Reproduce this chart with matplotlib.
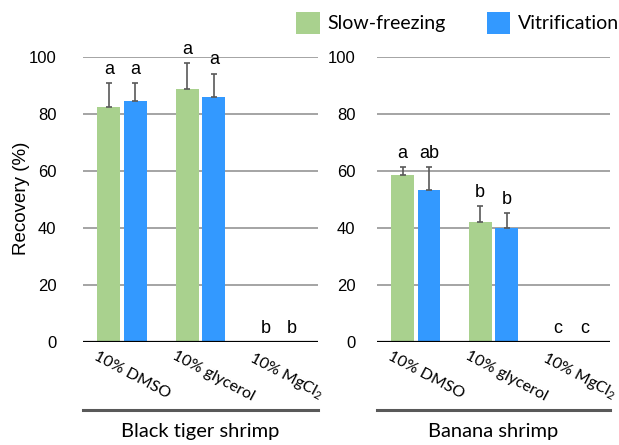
import numpy as np
import matplotlib.pyplot as plt
from matplotlib.patches import Patch

plt.rcParams['font.family'] = ['Liberation Sans', 'DejaVu Sans']
plt.rcParams['mathtext.fontset'] = 'custom'
plt.rcParams['mathtext.rm'] = 'Lato'

# data
treatments = ['10% DMSO', '10% glycerol', r'10% MgCl$_\mathregular{2}$']
species = ['Black tiger shrimp', 'Banana shrimp']
slow_mean = [[82.6, 89.0, 0], [58.7, 42.2, 0]]
slow_err = [[8.2, 9.0, 0], [2.7, 5.5, 0]]
vitri_mean = [[84.6, 86.2, 0], [53.3, 39.9, 0]]
vitri_err = [[6.2, 8.1, 0], [8.1, 5.5, 0]]
slow_letters = [['a', 'a', 'b'], ['a', 'b', 'c']]
vitri_letters = [['a', 'a', 'b'], ['ab', 'b', 'c']]

green = '#A9D18E'
blue = '#3399FF'
dark = '#595959'
calibri = ['Lato', 'DejaVu Sans']

W, H = 619, 445
fig = plt.figure(figsize=(W / 100, H / 100), dpi=100)
axes_px = [(83, 318), (377, 610)]
y0, y100 = 342, 57.3

off = 0.17
bw = 0.29
x = np.arange(len(treatments))

for k, (xa, xb) in enumerate(axes_px):
    ax = fig.add_axes([xa / W, 1 - y0 / H, (xb - xa) / W, (y0 - y100) / H])
    ax.set_xlim(-0.5, 2.5)
    ax.set_ylim(0, 100)
    for s in ax.spines.values():
        s.set_visible(False)
    ax.set_yticks([0, 20, 40, 60, 80, 100])
    ax.tick_params(axis='y', length=0, labelsize=12, pad=19 if k == 0 else 15.5)
    ax.set_xticks([])
    ax.grid(axis='y', color='#8C8C8C', linewidth=1.1, zorder=0)
    ax.set_axisbelow(True)
    ax.axhline(0, color='black', linewidth=1.6, zorder=3)

    for series, mean, err, letters, col in [
        (0, slow_mean[k], slow_err[k], slow_letters[k], green),
        (1, vitri_mean[k], vitri_err[k], vitri_letters[k], blue),
    ]:
        xs = x + (-off if series == 0 else off)
        ax.bar(xs, mean, width=bw, color=col, zorder=2)
        for xi, m, e, lt in zip(xs, mean, err, letters):
            if m > 0:
                ax.errorbar(xi, m, yerr=[[0], [e]], fmt='none', ecolor=dark,
                            elinewidth=1.2, capsize=2, capthick=1.2, zorder=2)
            ax.text(xi, m + e + 1.8, lt, ha='center', va='bottom',
                    fontsize=13, clip_on=False)

    for xi, lab in zip(x, treatments):
        ax.text(xi - 0.31, -2.5, lab, rotation=-28, rotation_mode='anchor',
                ha='left', va='top', fontsize=11.5, family=calibri,
                clip_on=False)

    ax.plot([0, 1], [-0.24, -0.24], transform=ax.transAxes, color=dark,
            linewidth=2.2, clip_on=False)
    ax.text(0.5, -0.316, species[k], transform=ax.transAxes, ha='center',
            va='center', fontsize=14.5, family=calibri)

    if k == 0:
        ax.set_ylabel('Recovery (%)', fontsize=13.5)
        ax.yaxis.set_label_coords(-0.226, 0.503)

handles = [Patch(facecolor=green), Patch(facecolor=blue)]
fig.legend(handles, ['Slow-freezing', 'Vitrification'], ncol=2, frameon=False,
           loc='upper right', bbox_to_anchor=(1.028, 1.0115), handlelength=1.2,
           handleheight=1.3, handletextpad=0.4, columnspacing=2.1,
           prop={'family': calibri, 'size': 14})

fig.savefig('out.png', dpi=100)
